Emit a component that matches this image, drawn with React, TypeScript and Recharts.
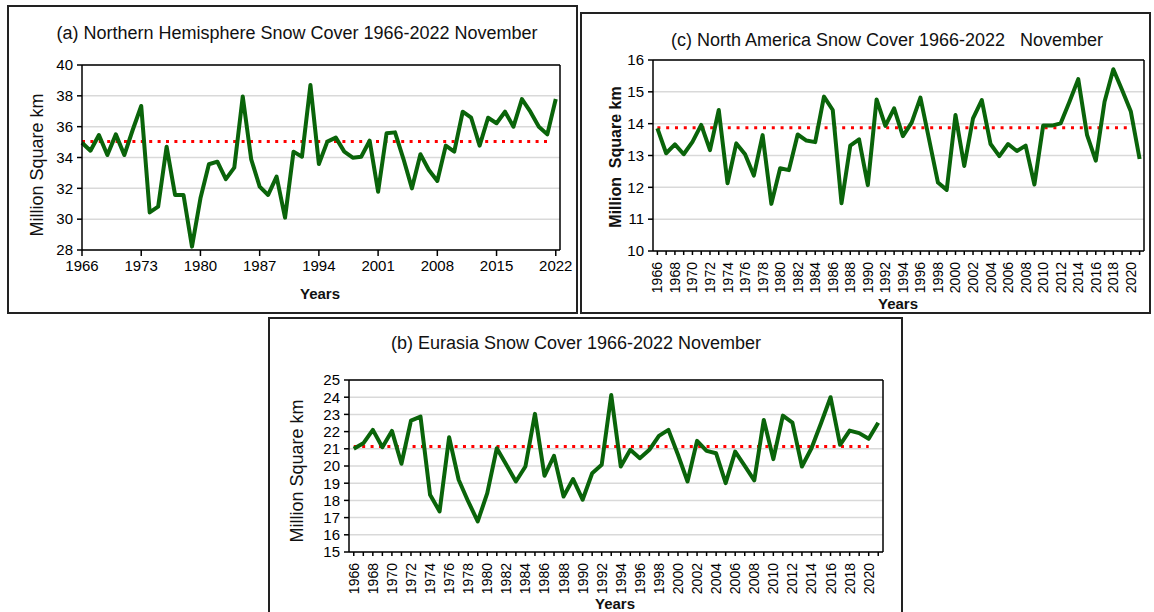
import React from "react";
import { LineChart, Line, XAxis, YAxis, CartesianGrid, ReferenceLine } from "recharts";

// years for the hemisphere series (1966-2022) and the continental ones (1966-2021)
const nhYears = [
  1966, 1967, 1968, 1969, 1970, 1971, 1972, 1973, 1974, 1975,
  1976, 1977, 1978, 1979, 1980, 1981, 1982, 1983, 1984, 1985,
  1986, 1987, 1988, 1989, 1990, 1991, 1992, 1993, 1994, 1995,
  1996, 1997, 1998, 1999, 2000, 2001, 2002, 2003, 2004, 2005,
  2006, 2007, 2008, 2009, 2010, 2011, 2012, 2013, 2014, 2015,
  2016, 2017, 2018, 2019, 2020, 2021, 2022,
];
const regionYears = nhYears.slice(0, 56);

const nhCover = [
  34.96, 34.44, 35.46, 34.16, 35.5, 34.16, 35.8, 37.34, 30.44, 30.81,
  34.7, 31.57, 31.57, 28.22, 31.35, 33.56, 33.73, 32.6, 33.34, 37.95,
  33.88, 32.11, 31.57, 32.76, 30.1, 34.38, 34.05, 38.7, 33.58, 35.03,
  35.29, 34.38, 33.99, 34.05, 35.09, 31.78, 35.57, 35.63, 33.9, 32.0,
  34.21, 33.19, 32.48, 34.77, 34.38, 36.97, 36.58, 34.77, 36.58, 36.22,
  36.97, 36.0, 37.79, 36.97, 36.0, 35.5, 37.79,
];
const naCover = [
  13.85, 13.07, 13.35, 13.04, 13.43, 13.96, 13.17, 14.43, 12.13, 13.38,
  13.04, 12.37, 13.64, 11.48, 12.6, 12.54, 13.66, 13.47, 13.42, 14.85,
  14.43, 11.5, 13.31, 13.51, 12.07, 14.76, 13.93, 14.48, 13.61, 14.03,
  14.82, 13.49, 12.15, 11.92, 14.27, 12.67, 14.17, 14.74, 13.36, 12.98,
  13.36, 13.14, 13.31, 12.09, 13.94, 13.94, 14.01, 14.69, 15.4, 13.65,
  12.84, 14.69, 15.71, 15.06, 14.38, 12.89,
];
const euCover = [
  21.0, 21.32, 22.1, 21.09, 22.04, 20.13, 22.64, 22.87, 18.33, 17.36,
  21.67, 19.2, 17.94, 16.78, 18.42, 21.03, 20.07, 19.1, 19.97, 23.03,
  19.43, 20.59, 18.23, 19.24, 18.04, 19.58, 20.07, 24.13, 19.97, 20.94,
  20.45, 20.94, 21.75, 22.1, 20.65, 19.1, 21.46, 20.88, 20.74, 19.0,
  20.84, 20.01, 19.16, 22.68, 20.4, 22.93, 22.52, 19.97, 21.03, 22.49,
  24.0, 21.23, 22.06, 21.91, 21.58, 22.52,
];

// long-term means (red dotted lines) and where they stop
const nhMean = 35.03;
const naMean = 13.87;
const euMean = 21.13;
const nhMeanEnd = 2021;
const regionMeanEnd = 2020;

const nhXTicks = [1966, 1973, 1980, 1987, 1994, 2001, 2008, 2015, 2022];
const nhYTicks = [28, 30, 32, 34, 36, 38, 40];
const naYTicks = [10, 11, 12, 13, 14, 15, 16];
const euYTicks = [15, 16, 17, 18, 19, 20, 21, 22, 23, 24, 25];

const nhData = nhYears.map((year, i) => ({ year, cover: nhCover[i] }));
const naData = regionYears.map((year, i) => ({ year, cover: naCover[i] }));
const euData = regionYears.map((year, i) => ({ year, cover: euCover[i] }));

const GREEN = "#0a640a";
const RED = "#ff0000";
const GRID = "#d9d9d9";

const RotatedYearTick = (props: any) => {
  const { x, y, payload } = props;
  if (payload.value % 2 !== 0) return null;
  return (
    <text
      x={x}
      y={y}
      transform={`rotate(-90 ${x} ${y})`}
      textAnchor="end"
      dominantBaseline="central"
      fontSize={14}
      fill="#000"
    >
      {payload.value}
    </text>
  );
};

const Box = ({ left, top, width, height, noBottom }: any) => (
  <div
    style={{
      position: "absolute",
      left,
      top,
      width,
      height,
      boxSizing: "border-box",
      border: "2px solid #222",
      borderBottom: noBottom ? "none" : "2px solid #222",
    }}
  />
);

const Centered = ({ x, y, size, bold, rotate, children }: any) => (
  <div
    style={{
      position: "absolute",
      left: x,
      top: y,
      transform: `translate(-50%, -50%)${rotate ? " rotate(-90deg)" : ""}`,
      fontSize: size,
      fontWeight: bold ? "bold" : "normal",
      whiteSpace: "pre",
      lineHeight: 1,
      color: "#111",
    }}
  >
    {children}
  </div>
);

const axisLine = { stroke: "#000", strokeWidth: 1.5 };
const tickLine = { stroke: "#000", strokeWidth: 1.5 };

export default function App() {
  return (
    <div
      style={{
        position: "absolute",
        left: 0,
        top: 0,
        width: 1154,
        height: 612,
        background: "#fff",
        overflow: "hidden",
        fontFamily: "'Liberation Sans', Arial, sans-serif",
      }}
    >
      <Box left={7} top={5} width={571} height={309} />
      <Box left={580} top={12} width={571} height={302} />
      <Box left={268} top={317} width={635} height={300} noBottom />

      {/* (a) Northern Hemisphere */}
      <div style={{ position: "absolute", left: 7, top: 5 }}>
        <LineChart width={571} height={308} data={nhData} margin={{ top: 60, right: 18, bottom: 33, left: 25 }}>
          <CartesianGrid vertical={false} stroke={GRID} strokeWidth={1.5} />
          <XAxis
            dataKey="year"
            type="number"
            domain={[1966, 2022.5]}
            ticks={nhXTicks}
            interval={0}
            height={30}
            tickSize={6}
            tickMargin={4}
            axisLine={axisLine}
            tickLine={tickLine}
            tick={{ fill: "#000", fontSize: 15 }}
          />
          <YAxis
            type="number"
            domain={[28, 40]}
            ticks={nhYTicks}
            interval={0}
            width={50}
            tickSize={5}
            tickMargin={4}
            axisLine={axisLine}
            tickLine={tickLine}
            tick={{ fill: "#000", fontSize: 15 }}
          />
          <ReferenceLine y={40} stroke="#000" strokeWidth={1.5} />
          <ReferenceLine x={2022.5} stroke="#000" strokeWidth={1.5} />
          <ReferenceLine
            segment={[{ x: 1966, y: nhMean }, { x: nhMeanEnd, y: nhMean }]}
            stroke={RED}
            strokeWidth={3}
            strokeDasharray="3 5.4"
          />
          <Line dataKey="cover" stroke={GREEN} strokeWidth={4} dot={false} strokeLinejoin="round" isAnimationActive={false} />
        </LineChart>
      </div>
      <Centered x={297} y={33} size={18}>(a) Northern Hemisphere Snow Cover 1966-2022 November</Centered>
      <Centered x={37} y={165} size={18} rotate>Million Square km</Centered>
      <Centered x={320} y={293} size={15} bold>Years</Centered>

      {/* (c) North America */}
      <div style={{ position: "absolute", left: 581, top: 13 }}>
        <LineChart width={569} height={300} data={naData} margin={{ top: 47, right: 6, bottom: 0, left: 0 }}>
          <CartesianGrid vertical={false} stroke={GRID} strokeWidth={1.5} />
          <XAxis
            dataKey="year"
            type="number"
            domain={[1965.5, 2021.5]}
            ticks={regionYears}
            interval={0}
            height={62}
            tickSize={4}
            tickMargin={7}
            axisLine={axisLine}
            tickLine={tickLine}
            tick={<RotatedYearTick />}
          />
          <YAxis
            type="number"
            domain={[10, 16]}
            ticks={naYTicks}
            interval={0}
            width={72}
            tickSize={5}
            tickMargin={4}
            axisLine={axisLine}
            tickLine={tickLine}
            tick={{ fill: "#000", fontSize: 15 }}
          />
          <ReferenceLine y={16} stroke="#000" strokeWidth={1.5} />
          <ReferenceLine x={2021.5} stroke="#000" strokeWidth={1.5} />
          <ReferenceLine
            segment={[{ x: 1966, y: naMean }, { x: regionMeanEnd, y: naMean }]}
            stroke={RED}
            strokeWidth={3}
            strokeDasharray="3 5.8"
          />
          <Line dataKey="cover" stroke={GREEN} strokeWidth={4} dot={false} strokeLinejoin="round" isAnimationActive={false} />
        </LineChart>
      </div>
      <Centered x={887} y={40} size={18}>(c) North America Snow Cover 1966-2022   November</Centered>
      <Centered x={616} y={157} size={16} bold rotate>Million  Square km</Centered>
      <Centered x={898} y={303} size={15} bold>Years</Centered>

      {/* (b) Eurasia */}
      <div style={{ position: "absolute", left: 268, top: 318 }}>
        <LineChart width={634} height={294} data={euData} margin={{ top: 62, right: 19, bottom: 0, left: 0 }}>
          <CartesianGrid vertical={false} stroke={GRID} strokeWidth={1.5} />
          <XAxis
            dataKey="year"
            type="number"
            domain={[1965.5, 2021.5]}
            ticks={regionYears}
            interval={0}
            height={60}
            tickSize={4}
            tickMargin={7}
            axisLine={axisLine}
            tickLine={tickLine}
            tick={<RotatedYearTick />}
          />
          <YAxis
            type="number"
            domain={[15, 25]}
            ticks={euYTicks}
            interval={0}
            width={81}
            tickSize={5}
            tickMargin={4}
            axisLine={axisLine}
            tickLine={tickLine}
            tick={{ fill: "#000", fontSize: 15 }}
          />
          <ReferenceLine y={25} stroke="#000" strokeWidth={1.5} />
          <ReferenceLine x={2021.5} stroke="#000" strokeWidth={1.5} />
          <ReferenceLine
            segment={[{ x: 1966, y: euMean }, { x: regionMeanEnd, y: euMean }]}
            stroke={RED}
            strokeWidth={3}
            strokeDasharray="3 5.4"
          />
          <Line dataKey="cover" stroke={GREEN} strokeWidth={4} dot={false} strokeLinejoin="round" isAnimationActive={false} />
        </LineChart>
      </div>
      <Centered x={576} y={343} size={18}>(b) Eurasia Snow Cover 1966-2022 November</Centered>
      <Centered x={297} y={471} size={18} rotate>Million Square km</Centered>
      <Centered x={615} y={603} size={15} bold>Years</Centered>
    </div>
  );
}
